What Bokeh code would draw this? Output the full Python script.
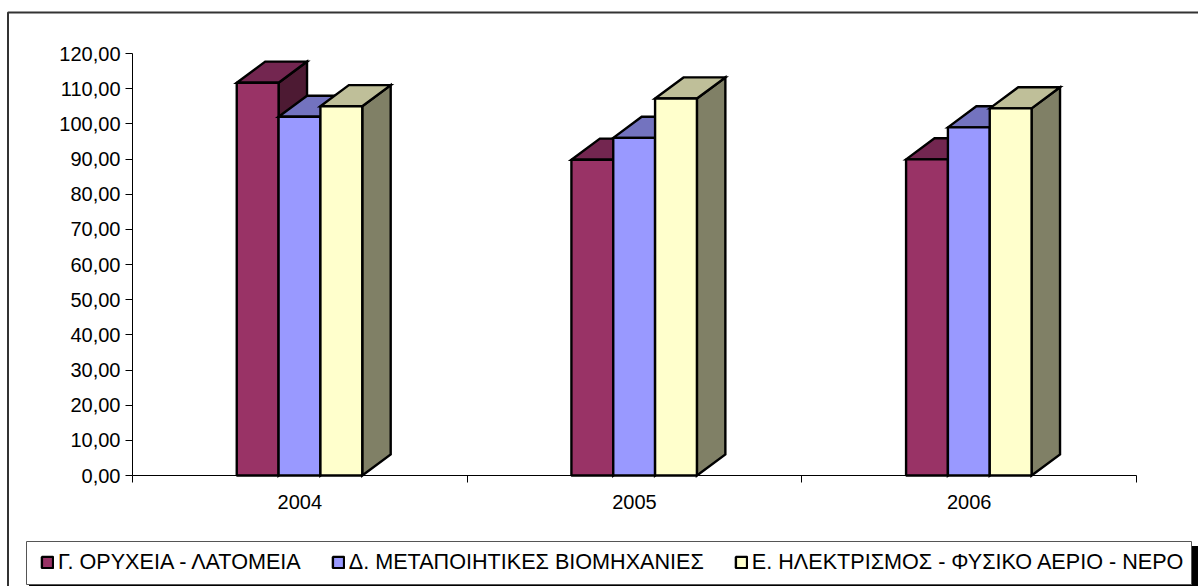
from bokeh.plotting import figure
from bokeh.embed import file_html
from bokeh.resources import INLINE
from bokeh.models import FixedTicker, Legend, LegendItem, BoxAnnotation, Range1d

years = ["2004", "2005", "2006"]
series_names = ["Γ. ΟΡΥΧΕΙΑ - ΛΑΤΟΜΕΙΑ", "Δ. ΜΕΤΑΠΟΙΗΤΙΚΕΣ ΒΙΟΜΗΧΑΝΙΕΣ",
                "Ε. ΗΛΕΚΤΡΙΣΜΟΣ - ΦΥΣΙΚΟ ΑΕΡΙΟ - ΝΕΡΟ"]
oryxeia = [111.7, 89.8, 89.9]
metapoiitikes = [102.0, 96.0, 99.0]
ilektrismos = [105.0, 107.2, 104.4]
y_ticks = list(range(0, 130, 10))
y_labels = [f"{v},00" for v in y_ticks]

front_colors = ["#993366", "#9999FF", "#FFFFCC"]
top_colors = ["#732650", "#7373BF", "#BFBF99"]
side_colors = ["#4D1A33", "#4D4D80", "#808066"]

BAR_W = 0.125
GROUP_PAD = 0.3115
DX = 0.085
DY = 6.0
FONT = "Liberation Sans"
FS = "20px"
LEGEND_FS = "21.6px"

W, H = 1198, 586
PX_L, PX_R, PX_T, PX_B = 132, 1136, 53, 475
ux = (PX_R - PX_L) / 3
uy = (PX_B - PX_T) / 120

p = figure(width=W, height=H, output_backend="svg", toolbar_location=None,
           x_range=Range1d(-PX_L / ux, (W - PX_L) / ux),
           y_range=Range1d(-(H - PX_B) / uy, PX_B / uy),
           min_border=0, background_fill_color="white",
           border_fill_color="white", outline_line_color=None)
p.grid.visible = False

p.yaxis.fixed_location = 0
p.yaxis.bounds = (0, 120)
p.yaxis.ticker = FixedTicker(ticks=y_ticks)
p.yaxis.major_label_overrides = {v: l for v, l in zip(y_ticks, y_labels)}
p.yaxis.minor_tick_line_color = None
p.yaxis.major_tick_in = 0
p.yaxis.major_tick_out = 7
p.yaxis.major_label_standoff = 5
p.xaxis.fixed_location = 0
p.xaxis.bounds = (0, 3)
p.xaxis.ticker = FixedTicker(ticks=[0.5, 1.5, 2.5], minor_ticks=[0, 1, 2, 3])
p.xaxis.major_label_overrides = {0.5 + i: y for i, y in enumerate(years)}
p.xaxis.major_tick_line_color = None
p.xaxis.major_tick_in = 0
p.xaxis.major_tick_out = 0
p.xaxis.minor_tick_in = 0
p.xaxis.minor_tick_out = 7
p.xaxis.minor_tick_line_color = "#000000"
p.xaxis.major_label_standoff = 12
for ax in (p.xaxis, p.yaxis):
    ax.axis_line_color = "#000000"
    ax.axis_line_width = 1
    ax.major_label_text_font = FONT
    ax.major_label_text_font_size = FS
    ax.major_label_text_color = "#000000"

items = []
for s, vals in enumerate([oryxeia, metapoiitikes, ilektrismos]):
    x0 = [i + GROUP_PAD + s * BAR_W for i in range(3)]
    x1 = [x + BAR_W for x in x0]
    side_x = [[b, b + DX, b + DX, b] for b in x1]
    side_y = [[0, DY, v + DY, v] for v in vals]
    top_x = [[a, a + DX, b + DX, b] for a, b in zip(x0, x1)]
    top_y = [[v, v + DY, v + DY, v] for v in vals]
    p.patches(side_x, side_y, fill_color=side_colors[s], line_color="black",
              line_width=2.4, line_join="miter")
    p.patches(top_x, top_y, fill_color=top_colors[s], line_color="black",
              line_width=2.4, line_join="miter")
    r = p.quad(left=x0, right=x1, bottom=[0] * 3, top=vals,
               fill_color=front_colors[s], line_color="black", line_width=2.4)
    items.append(LegendItem(label=series_names[s], renderers=[r]))

units = dict(left_units="screen", right_units="screen",
             top_units="screen", bottom_units="screen")


def from_top(y):
    return H - y


p.add_layout(BoxAnnotation(left=7.5, right=W + 20, top=from_top(12), bottom=-20, fill_alpha=0,
                           line_color="#333333", line_alpha=1, line_width=2, **units))
p.add_layout(BoxAnnotation(left=29, right=1198, top=from_top(546), bottom=-20,
                           fill_color="black", fill_alpha=1, line_color="black",
                           line_alpha=1, **units))
p.add_layout(BoxAnnotation(left=26, right=1191, top=from_top(541), bottom=from_top(584),
                           fill_color="white", fill_alpha=1, line_color="#555555",
                           line_alpha=1, line_width=1, **units))

legend = Legend(items=items, orientation="horizontal",
                location=(40, 11), padding=0, margin=0, spacing=30,
                glyph_width=14, glyph_height=14, label_standoff=4,
                label_text_font=FONT, label_text_font_size=LEGEND_FS,
                label_text_color="#000000", border_line_color=None,
                background_fill_alpha=0)
p.add_layout(legend)

open("out.html", "w").write(file_html(p, INLINE))
